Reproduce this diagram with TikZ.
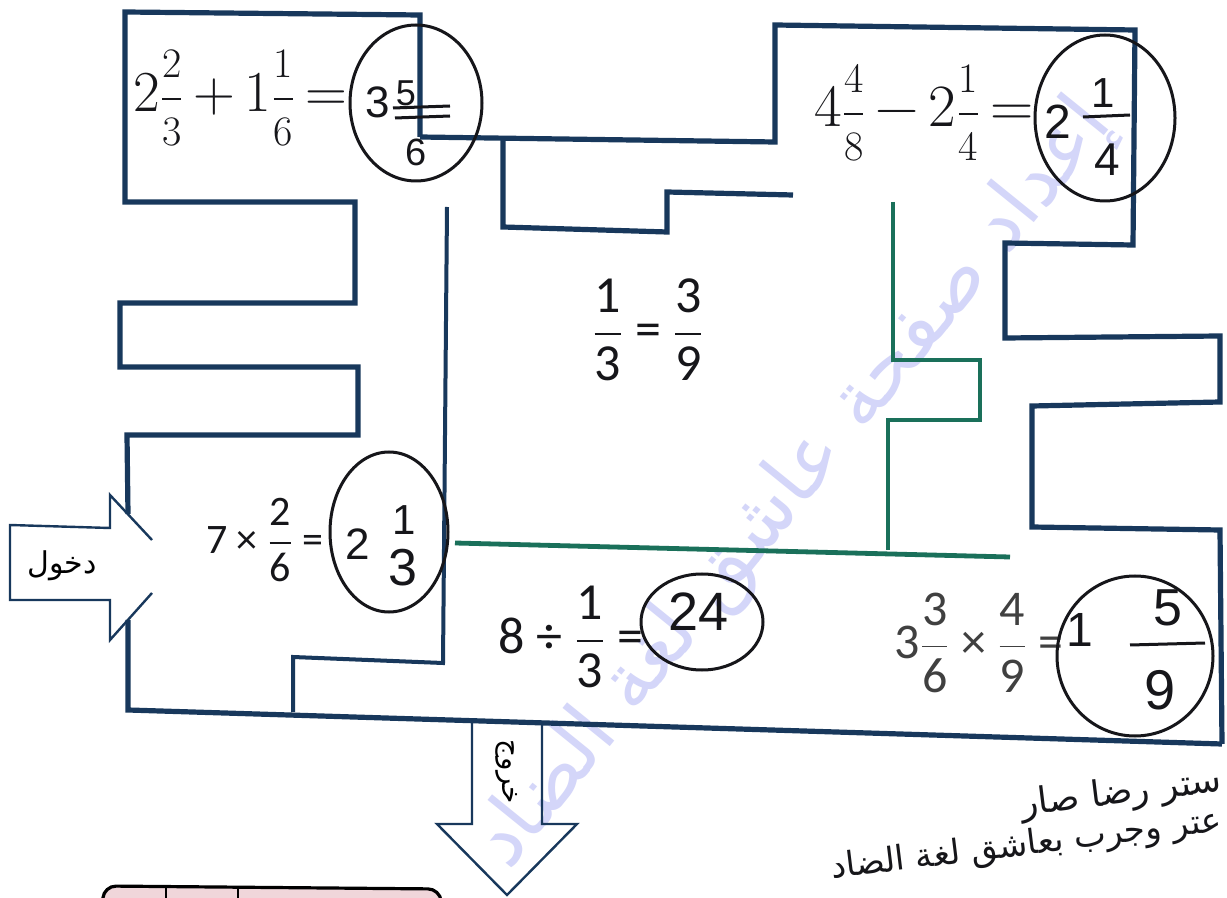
\documentclass[tikz,border=0pt]{standalone}
\usepackage{amsmath}
\usepackage{fontspec}
\newfontfamily\arabicfont[Script=Arabic]{DejaVu Sans}
\newfontfamily\calibfont{Carlito}
\newfontfamily\handfont{Liberation Sans}
\TeXXeTstate=1
\definecolor{wallblue}{RGB}{24,56,92}
\definecolor{wallgreen}{RGB}{26,112,90}
\definecolor{inkblack}{RGB}{22,22,26}
\definecolor{markblue}{RGB}{212,214,249}
\definecolor{boxpink}{RGB}{240,214,218}
% fractions: same size digits / smaller digits
\newcommand{\fr}[2]{\ensuremath{\displaystyle\genfrac{}{}{0.8pt}{0}{\mbox{#1}}{\mbox{#2}}}}
\newcommand{\sfr}[2]{\ensuremath{\displaystyle\genfrac{}{}{0.8pt}{0}{\mbox{\fontsize{21}{24}\selectfont #1}}{\mbox{\fontsize{21}{24}\selectfont #2}}}}
\tikzset{
  wall/.style={draw=wallblue,line width=2.6pt,line join=miter},
  gwall/.style={draw=wallgreen,line width=2.4pt},
  arrline/.style={draw=wallblue,line width=1.2pt,line join=miter},
  ring/.style={draw=inkblack,line width=1.5pt},
  eqlm/.style={inner sep=0pt,text=inkblack},
  eqcal/.style={inner sep=0pt,text=inkblack,font=\calibfont},
  hand/.style={inner sep=0pt,text=inkblack,font=\handfont}
}
\begin{document}
\begin{tikzpicture}[x=0.5pt,y=-0.5pt]
\fill[white] (0,0) rectangle (1227,898);
\useasboundingbox (0,0) rectangle (1227,898);
\clip (0,0) rectangle (1227,898);

% watermark
\node[inner sep=0pt,rotate=51,text=markblue,font=\arabicfont\fontsize{40}{44}\selectfont] (wmark) at (795,485) {\beginR إعداد صفحة عاشق لغة الضاد\endR};

% outer walls
\draw[wall] (420,137) -- (420,15) -- (125,12) -- (125,202) -- (355,202) -- (355,303) -- (120,303) -- (120,367) -- (358,367) -- (358,435) -- (127,435) -- (128,514);
\draw[wall] (420,137) -- (775,142) -- (775,25) -- (1135,30) -- (1133,245) -- (1005,243) -- (1005,338) -- (1220,336) -- (1220,402) -- (1032,406) -- (1032,527) -- (1220,530) -- (1222,744);
\draw[wall] (128,620) -- (128,710) -- (1222,744);
% inner walls
\draw[wall] (503,137) -- (503,227) -- (667,232) -- (667,192) -- (793,195);
\draw[wall,line width=2pt] (447,207) -- (443,663) -- (293,657) -- (293,712);
\draw[gwall] (893,202) -- (893,360) -- (980,360) -- (980,420) -- (888,420) -- (888,550);
\draw[gwall] (455,543) -- (1010,557);

% entry arrow
\draw[arrline] (152,540) -- (110,495) -- (110,528) -- (10,525) -- (10,600) -- (110,600) -- (110,640) -- (152,593);
\node[inner sep=0pt,font=\arabicfont\fontsize{15}{18}\selectfont] (entry) at (62,566) {\beginR دخول\endR};

% exit arrow
\draw[arrline] (472,719) -- (472,824) -- (437,824) -- (507,895) -- (577,824) -- (542,824) -- (542,721);
\node[inner sep=0pt,rotate=-90,font=\arabicfont\fontsize{14}{16}\selectfont] (exit) at (507,772) {\beginR خروج\endR};

% box at the foot
\draw[line width=1.6pt,fill=boxpink,rounded corners=6pt] (100,930) -- (104,886) -- (440,889) -- (444,930);
\draw[line width=1.2pt] (166,887) -- (166,898);
\draw[line width=1.2pt] (238,888) -- (238,898);

% printed problems
\node[eqlm,font=\fontsize{29}{33}\selectfont] (eqA) at (240,98) {2\sfr{2}{3}\,+\,1\sfr{1}{6}\,=};
\node[eqlm,font=\fontsize{30}{34}\selectfont] (eqB) at (924,113) {4\sfr{4}{8}\,−\,2\sfr{1}{4}\,=};
\node[eqcal,font=\calibfont\fontsize{26}{30}\selectfont] (eqC) at (648,330) {\fr{1}{3} = \fr{3}{9}};
\node[eqcal,font=\calibfont\fontsize{21}{25}\selectfont] (eqD) at (265,540) {7 × \fr{2}{6} =};
\node[eqcal,font=\calibfont\fontsize{26}{30}\selectfont] (eqE) at (571,637) {8 ÷ \fr{1}{3} =};
\node[eqcal,font=\calibfont\fontsize{25}{30}\selectfont,text=black!75] (eqF) at (979,643) {3\fr{3}{6} × \fr{4}{9} =};

% handwritten answers
\draw[ring] (416,103) ellipse [x radius=66,y radius=78];
\node[hand,font=\handfont\fontsize{22}{26}\selectfont] (ansA1) at (378,102) {3};
\node[hand,font=\handfont\fontsize{18}{22}\selectfont] (ansA2) at (406,93) {5};
\draw[inkblack,line width=1.5pt] (393,108) -- (450,106) (395,118) -- (450,116);
\node[hand,font=\handfont\fontsize{19}{22}\selectfont] (ansA3) at (416,152) {6};

\draw[ring] (1105,118) ellipse [x radius=70,y radius=83];
\node[hand,font=\handfont\fontsize{24}{28}\selectfont] (ansB1) at (1058,122) {2};
\node[hand,font=\handfont\fontsize{21}{24}\selectfont] (ansB2) at (1103,93) {1};
\draw[inkblack,line width=1.5pt] (1083,117) -- (1130,115);
\node[hand,font=\handfont\fontsize{23}{26}\selectfont] (ansB3) at (1107,160) {4};

\draw[ring] (389,532) ellipse [x radius=59,y radius=80];
\node[hand,font=\handfont\fontsize{22}{26}\selectfont] (ansC1) at (358,544) {2};
\node[hand,font=\handfont\fontsize{21}{24}\selectfont] (ansC2) at (404,520) {1};
\node[hand,font=\handfont\fontsize{26}{30}\selectfont] (ansC3) at (403,568) {3};

\draw[ring] (702,622) ellipse [x radius=61,y radius=48];
\node[hand,font=\handfont\fontsize{27}{30}\selectfont] (ansD) at (699,612) {24};

\draw[ring] (1135,656) ellipse [x radius=78,y radius=80];
\node[hand,font=\handfont\fontsize{24}{28}\selectfont] (ansE1) at (1080,630) {1};
\node[hand,font=\handfont\fontsize{26}{30}\selectfont] (ansE2) at (1168,608) {5};
\draw[inkblack,line width=1.5pt] (1130,645) -- (1205,643);
\node[hand,font=\handfont\fontsize{28}{32}\selectfont] (ansE3) at (1160,690) {9};

% note at the foot
\node[inner sep=0pt,rotate=7,anchor=east,text=inkblack,font=\arabicfont\fontsize{18}{22}\selectfont] (noteA) at (1222,782) {\beginR ستر رضا صار\endR};
\node[inner sep=0pt,rotate=7,anchor=east,text=inkblack,font=\arabicfont\fontsize{17}{20}\selectfont] (noteB) at (1222,822) {\beginR عتر وجرب بعاشق لغة الضاد\endR};
\end{tikzpicture}
\end{document}
